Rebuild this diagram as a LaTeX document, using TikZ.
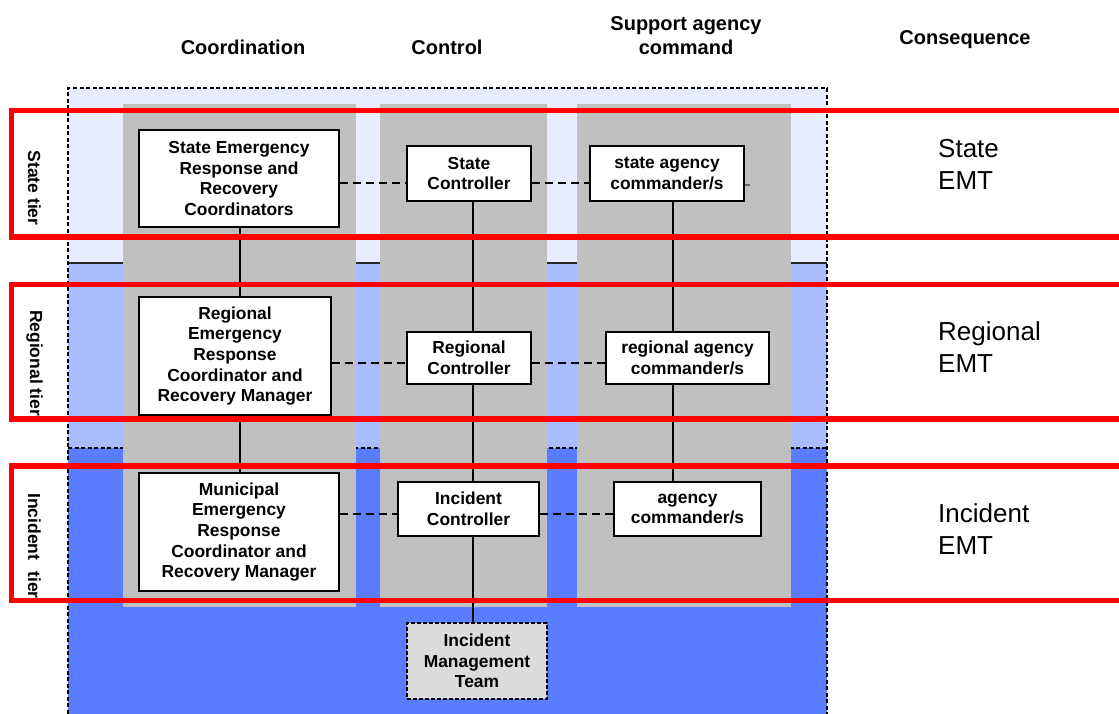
\documentclass[tikz,border=0pt]{standalone}
\usepackage{fontspec}
\setmainfont{Liberation Sans}
\definecolor{stateband}{RGB}{232,236,255}
\definecolor{regband}{RGB}{168,188,255}
\definecolor{incband}{RGB}{90,124,255}
\definecolor{colgray}{RGB}{192,192,192}
\definecolor{imtgray}{RGB}{220,220,220}
\newcommand\bxfont{\fontsize{17.4}{20.6}\selectfont\bfseries}
\begin{document}
\begin{tikzpicture}[x=1pt,y=-1pt,
  box/.style={draw=black, line width=1.3pt, fill=white, inner sep=0pt, align=center, font=\bxfont},
  imtbox/.style={box, fill=imtgray, dash pattern=on 4pt off 2pt},
  hdr/.style={font=\fontsize{20}{23.5}\selectfont\bfseries, align=center, inner sep=0pt},
  emt/.style={font=\fontsize{26}{32}\selectfont, align=left, anchor=west, inner sep=0pt},
  tierlabel/.style={font=\fontsize{17.5}{21}\selectfont\bfseries, rotate=-90, inner sep=0pt},
  conn/.style={line width=1.3pt, black},
  dconn/.style={line width=1.3pt, black, dash pattern=on 8pt off 5pt},
  framedash/.style={line width=1.5pt, black, dash pattern=on 4pt off 2.5pt},
  tierbox/.style={draw=red, line width=5.5pt},
  colbg/.style={fill=colgray, draw=none}]
\useasboundingbox (0,0) rectangle (1119,713);
\clip (0,0) rectangle (1119,713);
% tier bands
\fill[stateband] (68,88) rectangle (827,263);
\fill[regband] (68,263) rectangle (827,448);
\fill[incband] (68,448) rectangle (827,720);
\draw[line width=1.5pt, black!85] (68,263) -- (827,263);
\draw[framedash] (68,448) -- (827,448);
% gray columns
\path[colbg] (123,104) rectangle (356,607);
\path[colbg] (380,104) rectangle (547,607);
\path[colbg] (577,104) rectangle (791,607);
% outer dashed frame
\draw[framedash] (68,720) -- (68,88) -- (827,88) -- (827,720);
% headers
\node[hdr] (hcoord) at (243,47) {Coordination};
\node[hdr] (hctrl) at (447,47) {Control};
\node[hdr] (hsupp) at (686,35.5) {Support agency\\command};
\node[hdr] (hcons) at (965,40) {Consequence};
% nodes
\node[box, minimum width=200, minimum height=97] (n1) at (239,178.5) {State Emergency\\Response and\\Recovery\\Coordinators};
\node[box, minimum width=124, minimum height=55] (n2) at (469,173.5) {State\\Controller};
\node[box, minimum width=154, minimum height=55] (n3) at (667,173.5) {state agency\\commander/s};
\node[box, minimum width=192, minimum height=118] (n4) at (235,356) {Regional\\Emergency\\Response\\Coordinator and\\Recovery Manager};
\node[box, minimum width=124, minimum height=52] (n5) at (469,358) {Regional\\Controller};
\node[box, minimum width=163, minimum height=52] (n6) at (687.5,358) {regional agency\\commander/s};
\node[box, minimum width=200, minimum height=118] (n7) at (239,532) {Municipal\\Emergency\\Response\\Coordinator and\\Recovery Manager};
\node[box, minimum width=141, minimum height=54] (n8) at (468.5,509) {Incident\\Controller};
\node[box, minimum width=147, minimum height=54] (n9) at (687.5,509) {agency\\commander/s};
\node[imtbox, minimum width=140, minimum height=76] (n10) at (477,661) {Incident\\Management\\Team};
% helper coordinates for connector lines
\coordinate (crd) at (240,0);
\coordinate (ctl) at (473,0);
\coordinate (sup) at (673,0);
\coordinate (sd) at (0,183);
\coordinate (rd) at (0,363);
\coordinate (id) at (0,514);
\coordinate (tail) at (750,185);
% vertical connectors
\draw[conn] (n1.south -| crd) -- (n4.north -| crd);
\draw[conn] (n4.south -| crd) -- (n7.north -| crd);
\draw[conn] (n2.south -| ctl) -- (n5.north -| ctl);
\draw[conn] (n5.south -| ctl) -- (n8.north -| ctl);
\draw[conn] (n8.south -| ctl) -- (n10.north -| ctl);
\draw[conn] (n3.south -| sup) -- (n6.north -| sup);
\draw[conn] (n6.south -| sup) -- (n9.north -| sup);
% dashed connectors
\draw[dconn] (n1.east |- sd) -- (n2.west |- sd);
\draw[dconn] (n2.east |- sd) -- (n3.west |- sd);
\draw[line width=1.3pt, black!60] (n3.east |- tail) -- (tail);
\draw[dconn] (n4.east |- rd) -- (n5.west |- rd);
\draw[dconn] (n5.east |- rd) -- (n6.west |- rd);
\draw[dconn] (n7.east |- id) -- (n8.west |- id);
\draw[dconn] (n8.east |- id) -- (n9.west |- id);
% tier labels
\node[tierlabel] (lstate) at (34.5,188) {State tier};
\node[tierlabel] (lreg) at (34.5,363) {Regional tier};
\node[tierlabel] (linc) at (34.5,546) {Incident\hspace{6pt} tier};
% EMT labels
\node[emt] (estate) at (938,164) {State\\EMT};
\node[emt] (ereg) at (938,346.7) {Regional\\EMT};
\node[emt] (einc) at (938,528.7) {Incident\\EMT};
% red tier frames
\draw[tierbox] (11.5,110.5) rectangle (1140,237);
\draw[tierbox] (11.5,284.5) rectangle (1140,419);
\draw[tierbox] (11.5,466) rectangle (1140,600.5);
\end{tikzpicture}
\end{document}
